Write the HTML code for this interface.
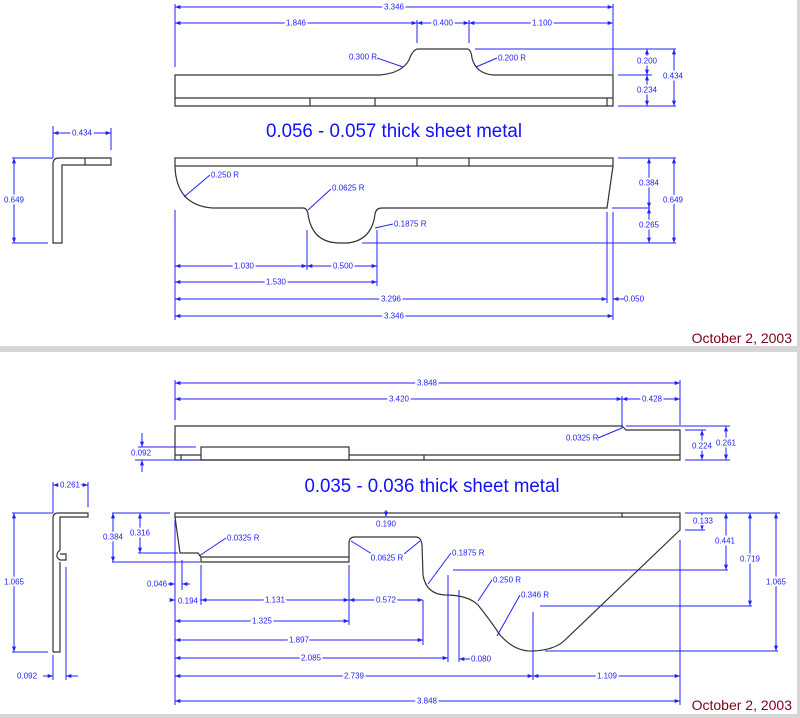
<!DOCTYPE html>
<html><head><meta charset="utf-8"><style>
html,body{margin:0;padding:0;background:#fff;}
svg{display:block;}
.s{fill:none;stroke:#333;stroke-width:1.2;}
.e{stroke:#2020ff;stroke-width:1;fill:none;}
.d{stroke:#2020ff;stroke-width:1;fill:none;marker-start:url(#as);marker-end:url(#ae);}
.d1{stroke:#2020ff;stroke-width:1;fill:none;marker-end:url(#ae);}
.t{font-family:"Liberation Sans",sans-serif;font-size:8px;fill:#2020ff;text-anchor:middle;dominant-baseline:central;stroke:#fff;stroke-width:4;paint-order:stroke;}
.tl{font-family:"Liberation Sans",sans-serif;font-size:8px;fill:#2020ff;dominant-baseline:central;}
.ti{font-family:"Liberation Sans",sans-serif;font-size:19px;fill:#1010ff;text-anchor:middle;}
.dt{font-family:"Liberation Sans",sans-serif;font-size:14px;fill:#800018;text-anchor:end;}
</style></head><body>
<svg width="800" height="718" viewBox="0 0 800 718" xmlns="http://www.w3.org/2000/svg">
<defs>
<marker id="ae" viewBox="0 0 8 6" refX="8" refY="3" markerWidth="6" markerHeight="4" orient="auto" markerUnits="userSpaceOnUse"><path d="M0,0L8,3L0,6Z" fill="#2020ff"/></marker>
<marker id="as" viewBox="0 0 8 6" refX="8" refY="3" markerWidth="6" markerHeight="4" orient="auto-start-reverse" markerUnits="userSpaceOnUse"><path d="M0,0L8,3L0,6Z" fill="#2020ff"/></marker>
</defs>
<rect x="0" y="0" width="800" height="718" fill="#fff"/>
<rect x="0" y="346" width="800" height="6" fill="#d6d6d6"/>
<rect x="797" y="0" width="3" height="718" fill="#d6d6d6"/>
<rect x="0" y="714" width="800" height="4" fill="#d6d6d6"/>

<path class="s" d="M175,75 L380,75 Q402,73 409,60 Q413,49 418,49 L467,49 Q471,49 472,58 Q476,74 494,75 L613,75 L613,106 L175,106 Z"/>
<path class="s" d="M175,98 L613,98 M310,98 L310,106 M375,98 L375,106 M607,98 L607,106"/>
<path class="e" d="M175,4 L175,67 M613,4 L613,74 M417,20 L417,43 M469,20 L469,43 M475,49 L676,49 M618,75 L652,75 M618,106 L676,106"/>
<line class="d" x1="175" y1="7" x2="613" y2="7"/><text class="t" x="394" y="7">3.346</text>
<line class="d" x1="175" y1="23" x2="417" y2="23"/><text class="t" x="296" y="23">1.846</text>
<line class="d" x1="417" y1="23" x2="469" y2="23"/><text class="t" x="443" y="23">0.400</text>
<line class="d" x1="469" y1="23" x2="613" y2="23"/><text class="t" x="542" y="23">1.100</text>
<line class="d" x1="647" y1="49" x2="647" y2="75"/><text class="t" x="647" y="61">0.200</text>
<line class="d" x1="647" y1="75" x2="647" y2="106"/><text class="t" x="647" y="90">0.234</text>
<line class="d" x1="674" y1="49" x2="674" y2="106"/><text class="t" x="673" y="76">0.434</text>
<line class="e" x1="377" y1="58" x2="403" y2="67"/><text class="tl" x="349" y="57">0.300 R</text>
<line class="e" x1="497" y1="58" x2="476" y2="67"/><text class="tl" x="498" y="58">0.200 R</text>

<text class="ti" x="394" y="137" textLength="256" lengthAdjust="spacingAndGlyphs">0.056 - 0.057 thick sheet metal</text>

<path class="s" d="M53,243 L53,164 Q53,158 59,158 L111,158 L111,165 L62,165 L62,243 Z M85,158 L85,165"/>
<path class="e" d="M53,126 L53,158 M111,128 L111,150 M12,158 L53,158 M12,243 L48,243"/>
<line class="d" x1="53" y1="133" x2="111" y2="133"/><text class="t" x="82" y="133">0.434</text>
<line class="d" x1="14" y1="158" x2="14" y2="243"/><text class="t" x="14" y="200">0.649</text>

<rect class="s" x="175" y="158" width="438" height="8"/>
<path class="s" d="M417,158 L417,166 M469,158 L469,166"/>
<path class="s" d="M175,166 Q176,205 212,208 L303,208 Q307,208 308,214 Q312,243 340,243 L348,243 Q372,240 375,214 Q376,208 382,208 L607,208 L613,166"/>
<path class="e" d="M618,158 L676,158 M612,208 L650,208 M362,243 L676,243 M175,210 L175,320 M307,230 L307,270 M377,230 L377,286 M607,212 L607,303 M613,212 L613,320"/>
<line class="d" x1="649" y1="158" x2="649" y2="208"/><text class="t" x="649" y="183">0.384</text>
<line class="d" x1="649" y1="208" x2="649" y2="243"/><text class="t" x="649" y="225">0.265</text>
<line class="d" x1="674" y1="158" x2="674" y2="243"/><text class="t" x="673" y="200">0.649</text>
<line class="e" x1="210" y1="175" x2="184" y2="197"/><text class="tl" x="211" y="175">0.250 R</text>
<line class="e" x1="331" y1="189" x2="308" y2="210"/><text class="tl" x="332" y="188">0.0625 R</text>
<line class="e" x1="393" y1="224" x2="375" y2="228"/><text class="tl" x="394" y="224">0.1875 R</text>
<line class="d" x1="175" y1="266" x2="307" y2="266"/><text class="t" x="244" y="266">1.030</text>
<line class="d" x1="307" y1="266" x2="377" y2="266"/><text class="t" x="343" y="266">0.500</text>
<line class="d" x1="175" y1="282" x2="377" y2="282"/><text class="t" x="276" y="282">1.530</text>
<line class="d" x1="175" y1="299" x2="607" y2="299"/><text class="t" x="391" y="299">3.296</text>
<line class="d1" x1="624" y1="299" x2="613" y2="299"/><text class="tl" x="624" y="299">0.050</text>
<line class="d" x1="175" y1="316" x2="613" y2="316"/><text class="t" x="394" y="316">3.346</text>
<text class="dt" x="792" y="343">October 2, 2003</text>

<path class="e" d="M175,380 L175,420 M680,380 L680,425 M622,396 L622,428"/>
<line class="d" x1="175" y1="383" x2="680" y2="383"/><text class="t" x="427" y="383">3.848</text>
<line class="d" x1="175" y1="399" x2="622" y2="399"/><text class="t" x="399" y="399">3.420</text>
<line class="d" x1="622" y1="399" x2="680" y2="399"/><text class="t" x="652" y="399">0.428</text>
<path class="s" d="M175,426 L622,426 L626,430 L680,430 L680,460 L175,460 Z"/>
<path class="s" d="M349,455 L680,455 M424,455 L424,460 M175,455 L201,455 M181,455 L181,460"/>
<rect class="s" x="201" y="447" width="148" height="13"/>
<path class="e" d="M138,447 L196,447 M135,460 L200,460 M626,426 L730,426 M685,430 L706,430 M685,460 L730,460"/>
<line class="d1" x1="142" y1="433" x2="142" y2="447"/><line class="d1" x1="142" y1="472" x2="142" y2="460"/>
<text class="tl" x="131" y="453">0.092</text>
<line class="d" x1="702" y1="430" x2="702" y2="460"/><text class="t" x="702" y="446">0.224</text>
<line class="d" x1="726" y1="426" x2="726" y2="460"/><text class="t" x="726" y="443">0.261</text>
<line class="e" x1="598" y1="438" x2="622" y2="428"/><text class="tl" x="566" y="438">0.0325 R</text>

<text class="ti" x="432" y="492" textLength="255" lengthAdjust="spacingAndGlyphs">0.035 - 0.036 thick sheet metal</text>

<path class="s" d="M53,652 L53,518 Q53,513 58,513 L88,513 L88,517 L60,517 L60,550 L58,552 Q55,557 60,560 L66,560 L66,554 L60,554 M60,562 L60,652 L53,652"/>
<path class="e" d="M53,482 L53,513 M88,482 L88,507 M12,513 L53,513 M12,652 L48,652 M53,655 L53,680 M66,567 L66,680"/>
<line class="d" x1="53" y1="485" x2="88" y2="485"/><text class="t" x="70" y="485">0.261</text>
<line class="d" x1="14" y1="513" x2="14" y2="652"/><text class="t" x="14" y="582">1.065</text>
<line class="d1" x1="43" y1="676" x2="53" y2="676"/><line class="d1" x1="78" y1="676" x2="66" y2="676"/>
<text class="tl" x="17" y="676">0.092</text>

<rect class="s" x="175" y="513" width="505" height="4"/>
<path class="s" d="M622,513 L622,517"/>
<path class="s" d="M175,517 L180,553 L198,553 L201,557 L201,562 L349,562 L349,543 Q349,537 355,537 L416,537 Q421,537 422,545 L423,575 Q426,594 445,595 Q468,595 478,605 Q490,620 500,635 Q515,652 533,651 Q555,650 565,640 L680,530 L680,517 M201,557 L349,557"/>
<path class="e" d="M112,513 L170,513 M138,553 L178,553 M112,562 L200,562 M685,513 L780,513 M685,530 L705,530 M453,570 L728,570 M540,606 L752,606 M545,651 L778,651 M175,520 L175,705 M182,560 L182,590 M201,565 L201,605 M349,565 L349,625 M423,600 L423,645 M448,575 L448,662 M459,590 L459,662 M533,612 L533,680 M680,540 L680,705"/>
<line class="d1" x1="386" y1="510" x2="386" y2="517"/><text class="t" x="386" y="524">0.190</text>
<line class="d" x1="113" y1="513" x2="113" y2="562"/><text class="t" x="113" y="537">0.384</text>
<line class="d" x1="140" y1="513" x2="140" y2="553"/><text class="t" x="140" y="533">0.316</text>
<line class="e" x1="226" y1="538" x2="199" y2="556"/><text class="tl" x="227" y="538">0.0325 R</text>
<path class="e" d="M372,554 L351,541 M404,554 L420,541"/><text class="t" x="387" y="558">0.0625 R</text>
<line class="e" x1="451" y1="553" x2="428" y2="584"/><text class="tl" x="452" y="553">0.1875 R</text>
<line class="e" x1="492" y1="580" x2="478" y2="601"/><text class="tl" x="493" y="580">0.250 R</text>
<line class="e" x1="520" y1="595" x2="497" y2="636"/><text class="tl" x="521" y="595">0.346 R</text>
<line class="d1" x1="168" y1="584" x2="175" y2="584"/><line class="d1" x1="190" y1="584" x2="182" y2="584"/>
<text class="tl" x="147" y="584">0.046</text>
<line class="d1" x1="170" y1="600" x2="175" y2="600"/><line class="d1" x1="180" y1="600" x2="201" y2="600"/>
<text class="t" x="188" y="601">0.194</text>
<line class="d" x1="201" y1="600" x2="349" y2="600"/><text class="t" x="275" y="600">1.131</text>
<line class="d" x1="349" y1="600" x2="423" y2="600"/><text class="t" x="386" y="600">0.572</text>
<line class="d" x1="175" y1="621" x2="349" y2="621"/><text class="t" x="262" y="621">1.325</text>
<line class="d" x1="175" y1="640" x2="423" y2="640"/><text class="t" x="299" y="640">1.897</text>
<line class="d" x1="175" y1="658" x2="448" y2="658"/><text class="t" x="311" y="658">2.085</text>
<line class="d1" x1="470" y1="659" x2="459" y2="659"/><text class="tl" x="471" y="659">0.080</text>
<line class="d" x1="175" y1="676" x2="533" y2="676"/><text class="t" x="354" y="676">2.739</text>
<line class="d" x1="533" y1="676" x2="680" y2="676"/><text class="t" x="607" y="676">1.109</text>
<line class="d" x1="175" y1="701" x2="680" y2="701"/><text class="t" x="427" y="701">3.848</text>
<line class="d" x1="702" y1="513" x2="702" y2="530"/><text class="t" x="703" y="521">0.133</text>
<line class="d" x1="726" y1="513" x2="726" y2="570"/><text class="t" x="725" y="541">0.441</text>
<line class="d" x1="750" y1="513" x2="750" y2="606"/><text class="t" x="750" y="559">0.719</text>
<line class="d" x1="776" y1="513" x2="776" y2="651"/><text class="t" x="776" y="582">1.065</text>
<text class="dt" x="792" y="710">October 2, 2003</text>
</svg>
</body></html>
